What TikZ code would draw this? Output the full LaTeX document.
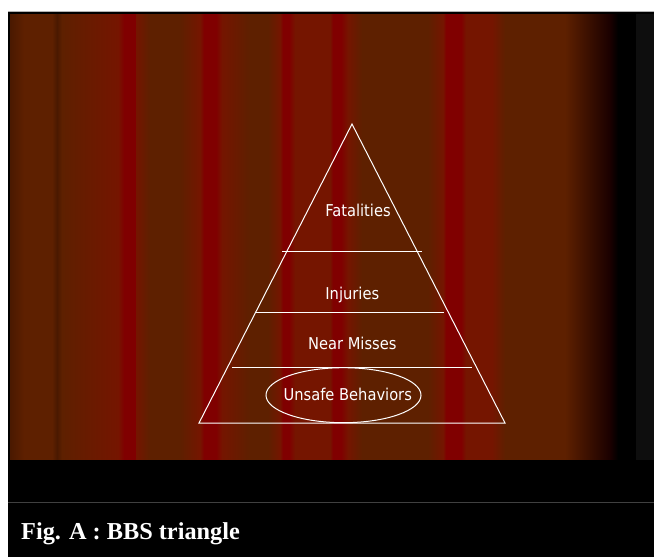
\documentclass[tikz,border=0pt]{standalone}
\usepackage{fontspec}
\setmainfont{Liberation Serif}
\newfontfamily\tierfont{DejaVu Sans Condensed}
\usepackage{tikz}
\usetikzlibrary{positioning}

\definecolor{curtainbrown}{RGB}{94,32,0}
\definecolor{curtainrust}{RGB}{117,21,0}
\definecolor{curtainred}{RGB}{128,0,0}
\definecolor{curtainedge}{RGB}{74,25,0}
\definecolor{curtaindark}{RGB}{26,0,0}
\definecolor{panelgrey}{RGB}{14,14,14}
\definecolor{rulegrey}{RGB}{64,64,64}

\tikzset{
    tier/.style={text=white, anchor=base, inner sep=0pt,
        font=\tierfont\fontsize{16.3}{19}\selectfont},
    pyramid/.style={draw=white, line width=1pt},
}

\begin{document}
\begin{tikzpicture}[x=1pt, y=-1pt]
    \useasboundingbox (0,0) rectangle (654,557);
    % Slide frame (white margin top and left)
    \fill[white] (0,0) rectangle (654,557);
    \fill[black] (8,11) rectangle (654,557);
    \draw[gray!60, line width=1pt] (8,11.5) -- (654,11.5);

    % Curtain background
    \fill[curtainbrown] (10,14) rectangle (636,461);
    \foreach \xa/\xb/\ca/\cb in {
        10/24/curtainedge/curtainbrown, 52/57/curtainbrown/curtainedge,
        57/62/curtainedge/curtainbrown, 62/118/curtainbrown/curtainrust,
        118/124/curtainrust/curtainred, 124/136/curtainred/curtainred,
        136/150/curtainrust/curtainbrown, 180/200/curtainbrown/curtainrust,
        200/204/curtainrust/curtainred, 204/216/curtainred/curtainred,
        216/222/curtainred/curtainrust, 222/250/curtainrust/curtainbrown,
        268/280/curtainbrown/curtainrust, 280/283/curtainrust/curtainred,
        283/289/curtainred/curtainred, 289/295/curtainred/curtainrust,
        295/330/curtainrust/curtainrust, 330/333/curtainrust/curtainred,
        333/341/curtainred/curtainred, 341/348/curtainred/curtainrust,
        348/362/curtainrust/curtainbrown, 428/443/curtainbrown/curtainrust,
        443/446/curtainrust/curtainred, 446/461/curtainred/curtainred,
        461/466/curtainred/curtainrust, 466/492/curtainrust/curtainrust,
        492/505/curtainrust/curtainbrown, 565/610/curtainbrown/curtaindark,
        610/618/curtaindark/black, 618/636/black/black}
        \shade[left color=\ca, right color=\cb] (\xa,14) rectangle (\xb,461);
    \fill[panelgrey] (636,14) rectangle (654,460);
    \fill[black] (8,460) rectangle (654,502);
    \draw[black, line width=2pt] (9,13) -- (9,460);

    % Caption bar
    \draw[rulegrey, line width=1pt] (8,502.5) -- (654,502.5);
    \node[text=white, anchor=base west, inner sep=0pt,
        font=\bfseries\fontsize{24.3}{28}\selectfont] (caption) at (21,539)
        {Fig. A : BBS triangle};

    % Pyramid outline
    \coordinate (apex) at (352,124);
    \coordinate (baseleft) at (199,423);
    \coordinate (baseright) at (505,423);
    \draw[pyramid] (apex) -- (baseleft) -- (baseright) -- cycle;

    % Tier dividers
    \draw[pyramid] (282,251.5) -- (422,251.5);
    \draw[pyramid] (255,312.5) -- (444,312.5);
    \draw[pyramid] (232,367.5) -- (472,367.5);

    % Tier labels
    \node[tier] (fatalities) at (358,216.5) {Fatalities};
    \node[tier] (injuries) at (352.3,299.5) {Injuries};
    \node[tier] (nearmisses) at (352.3,349) {Near Misses};
    \node[tier] (unsafe) at (347.8,400) {Unsafe Behaviors};
    \draw[pyramid] (343.5,395.2) ellipse (77.5 and 27.5);
\end{tikzpicture}
\end{document}
